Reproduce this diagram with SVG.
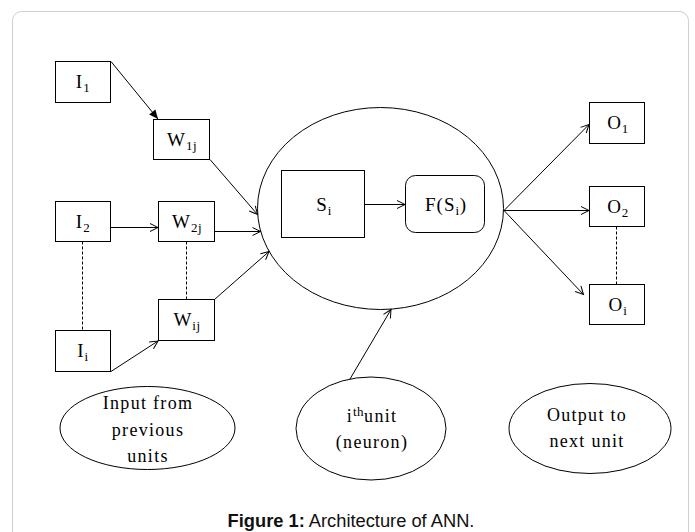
<svg xmlns="http://www.w3.org/2000/svg" width="695" height="532" viewBox="0 0 695 532">
  <style>
    .box { fill: #fff; stroke: #000; stroke-width: 1; }
    .oval { fill: none; stroke: #000; stroke-width: 1; }
    .lbl { font-family: "Liberation Serif", "Times New Roman", serif; font-size: 19px; letter-spacing: 1px; fill: #000; text-anchor: middle; }
    .note { font-size: 18px; letter-spacing: 1.3px; }
    .sub { font-size: 13px; letter-spacing: 0.5px; }
    .edge { fill: none; stroke: #000; stroke-width: 1; }
    .dash { fill: none; stroke: #000; stroke-width: 1; stroke-dasharray: 3 2; }
    .cap { font-family: "Liberation Sans", Arial, sans-serif; font-size: 18.3px; fill: #111; text-anchor: middle; }
  </style>
  <defs>
    <marker id="open" viewBox="-10 -6 12 12" refX="0" refY="0" markerWidth="12" markerHeight="12" markerUnits="userSpaceOnUse" orient="auto">
      <path d="M-8,-4 L0,0 L-8,4" fill="none" stroke="#000" stroke-width="1"/>
    </marker>
    <marker id="solid" viewBox="-10 -6 12 12" refX="0" refY="0" markerWidth="12" markerHeight="12" markerUnits="userSpaceOnUse" orient="auto">
      <path d="M-9,-4 L0,0 L-9,4 Z" fill="#000"/>
    </marker>
  </defs>

  <rect width="695" height="532" fill="#fff"/>
  <!-- figure frame -->
  <rect x="12.5" y="11.5" width="676" height="570" rx="9" fill="none" stroke="#cfcfcf" stroke-width="1"/>

  <g id="connectors">
    <line class="edge" x1="111" y1="61.5" x2="158" y2="119" marker-end="url(#solid)"/>
    <line class="edge" x1="210" y1="159.5" x2="257.5" y2="214.5" marker-end="url(#open)"/>
    <line class="edge" x1="110.5" y1="227.5" x2="158" y2="227.5" marker-end="url(#open)"/>
    <line class="edge" x1="214.5" y1="231.5" x2="260.5" y2="231.5" marker-end="url(#open)"/>
    <line class="edge" x1="214.5" y1="299.5" x2="269" y2="251.5" marker-end="url(#open)"/>
    <line class="edge" x1="111" y1="371.5" x2="158" y2="341" marker-end="url(#open)"/>
    <line class="dash" x1="82.5" y1="241.5" x2="82.5" y2="330.5"/>
    <line class="dash" x1="186.5" y1="241.5" x2="186.5" y2="299.5"/>
    <line class="edge" x1="364.5" y1="204.5" x2="405" y2="204.5" marker-end="url(#open)"/>
    <line class="edge" x1="350" y1="379" x2="391" y2="309.5" marker-end="url(#open)"/>
    <line class="edge" x1="504" y1="210.5" x2="589" y2="124.5" marker-end="url(#open)"/>
    <line class="edge" x1="504" y1="210.5" x2="589" y2="210.5" marker-end="url(#open)"/>
    <line class="edge" x1="504" y1="210.5" x2="583.5" y2="294.5" marker-end="url(#open)"/>
    <line class="dash" x1="616.5" y1="226.5" x2="616.5" y2="284.5"/>
  </g>

  <g id="I1">
    <rect class="box" x="55.5" y="61.5" width="55" height="41"/>
    <text class="lbl" x="83" y="88">I<tspan class="sub" dy="4">1</tspan></text>
  </g>
  <g id="W1j">
    <rect class="box" x="153.5" y="119.5" width="56" height="40"/>
    <text class="lbl" x="182" y="145.5">W<tspan class="sub" dy="4">1j</tspan></text>
  </g>
  <g id="I2">
    <rect class="box" x="55.5" y="201.5" width="55" height="40"/>
    <text class="lbl" x="83" y="227.5">I<tspan class="sub" dy="4">2</tspan></text>
  </g>
  <g id="W2j">
    <rect class="box" x="158.5" y="201.5" width="56" height="40"/>
    <text class="lbl" x="187" y="227.5">W<tspan class="sub" dy="4">2j</tspan></text>
  </g>
  <g id="Wij">
    <rect class="box" x="158.5" y="299.5" width="56" height="41"/>
    <text class="lbl" x="187" y="326">W<tspan class="sub" dy="4">ij</tspan></text>
  </g>
  <g id="Ii">
    <rect class="box" x="55.5" y="330.5" width="55" height="41"/>
    <text class="lbl" x="83" y="357">I<tspan class="sub" dy="4">i</tspan></text>
  </g>

  <g id="neuron">
    <ellipse class="oval" cx="380.5" cy="208.5" rx="123" ry="101"/>
  </g>
  <g id="Si">
    <rect class="box" x="281.5" y="170.5" width="83" height="67"/>
    <text class="lbl" x="324" y="210.5">S<tspan class="sub" dy="4">i</tspan></text>
  </g>
  <g id="FSi">
    <rect class="box" x="405.5" y="175.5" width="79" height="57" rx="10"/>
    <text class="lbl" x="446" y="210.5">F(S<tspan class="sub" dy="4">i</tspan><tspan dy="-4">)</tspan></text>
  </g>

  <g id="O1">
    <rect class="box" x="589.5" y="102.5" width="55" height="41"/>
    <text class="lbl" x="618" y="129">O<tspan class="sub" dy="4">1</tspan></text>
  </g>
  <g id="O2">
    <rect class="box" x="589.5" y="186.5" width="55" height="40"/>
    <text class="lbl" x="618" y="212.5">O<tspan class="sub" dy="4">2</tspan></text>
  </g>
  <g id="Oi">
    <rect class="box" x="589.5" y="284.5" width="55" height="40"/>
    <text class="lbl" x="618" y="310.5">O<tspan class="sub" dy="4">i</tspan></text>
  </g>

  <g id="input-note">
    <ellipse class="oval" cx="147.5" cy="428" rx="87.5" ry="41.5"/>
    <text class="lbl note" x="148" y="409">Input from</text>
    <text class="lbl note" x="148" y="436">previous</text>
    <text class="lbl note" x="148" y="462">units</text>
  </g>
  <g id="unit-note">
    <ellipse class="oval" cx="371" cy="428.5" rx="75" ry="51.5"/>
    <text class="lbl note" x="372" y="422">i<tspan class="sub" dy="-6">th</tspan><tspan dy="6">unit</tspan></text>
    <text class="lbl note" x="372" y="448">(neuron)</text>
  </g>
  <g id="output-note">
    <ellipse class="oval" cx="590" cy="428.5" rx="81" ry="45"/>
    <text class="lbl note" x="587" y="421">Output to</text>
    <text class="lbl note" x="587" y="447">next unit</text>
  </g>

  <text class="cap" x="351" y="527"><tspan font-weight="bold">Figure 1:</tspan> Architecture of ANN.</text>
</svg>
